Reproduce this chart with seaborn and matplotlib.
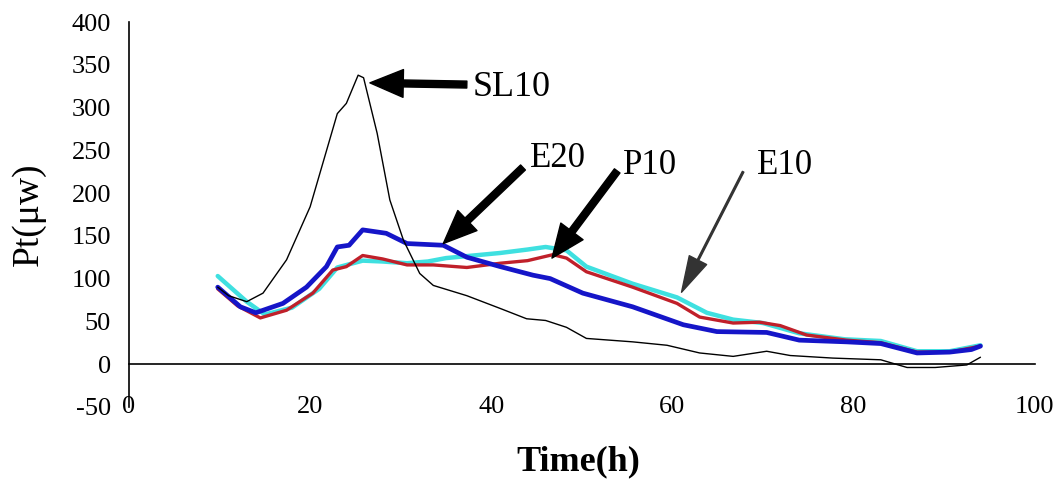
import matplotlib
matplotlib.use("Agg")
import matplotlib.pyplot as plt
import seaborn as sns
import pandas as pd

# ---- data ----
sl10_x = [9.8, 11, 13, 14.8, 17.4, 20, 23, 24, 25.3, 25.9, 27.4, 28.8, 30.3, 32.1, 33.6, 37.3,
          41, 43.9, 46, 48.3, 50.5, 55.6, 59.4, 63, 66.7, 70.4, 73, 77.7, 83, 85.9, 89, 92.5, 94]
sl10_y = [90, 80, 73, 83, 122, 184, 293, 305, 338, 335, 270, 192, 145, 106, 92, 80,
          65, 53, 51, 43, 30, 26, 22, 13, 9, 15, 10, 7, 5, -4, -4, -1, 8]

e20_x = [9.8, 12.3, 14, 17, 19.6, 21.8, 23, 24.3, 25.8, 28.4, 30.7, 34.7, 37.3, 41, 44.6, 46.5,
         50.1, 55.6, 61.2, 64.9, 70.4, 74, 79.2, 83, 87, 90.6, 93, 94]
e20_y = [90, 67, 60, 71, 90, 114, 137, 139, 157, 153, 141, 139, 125, 114, 104, 100,
         83, 67, 46, 38, 37, 28, 26, 24, 13, 14, 17, 21]

p10_x = [9.8, 12, 14.5, 17.4, 20.3, 22.5, 24, 25.8, 28, 30.7, 33.6, 37.3, 41, 44, 46.8, 48.3,
         50.5, 55.6, 60.5, 63, 66.7, 69.6, 71.9, 74.8, 79.2, 83, 87, 90.6, 94]
p10_y = [88, 68, 54, 63, 83, 110, 114, 127, 123, 116, 116, 113, 118, 121, 128, 124,
         108, 90, 71, 55, 48, 49, 45, 34, 28, 25, 14, 14, 21]

e10_x = [9.8, 13, 15, 18, 21, 23, 25.8, 28, 30.7, 33, 35, 38, 41, 44, 46, 48.3,
         50.5, 55.6, 60.5, 63.8, 66.7, 70, 74, 79, 83, 87, 90.6, 94]
e10_y = [103, 73, 58, 66, 88, 113, 121, 120, 118, 120, 124, 127, 130, 134, 137, 133,
         114, 94, 78, 60, 52, 48, 36, 29, 27, 15, 15, 22]

x_ticks = [0, 20, 40, 60, 80, 100]
y_ticks = [-50, 0, 50, 100, 150, 200, 250, 300, 350, 400]

sns.set_style("white")
plt.rcParams["font.family"] = ["Liberation Serif", "DejaVu Serif"]
plt.rcParams["axes.unicode_minus"] = False
plt.rcParams["text.color"] = "black"
plt.rcParams["xtick.color"] = "black"
plt.rcParams["ytick.color"] = "black"

fig = plt.figure(figsize=(10.57, 4.82), dpi=100)
ax = fig.add_axes([0.122, 0.156, 0.857, 0.798])

series = [
    ("E10", e10_x, e10_y, "#3FE0E0", 3.2),
    ("P10", p10_x, p10_y, "#C0202A", 2.4),
    ("E20", e20_x, e20_y, "#1515C8", 3.4),
    ("SL10", sl10_x, sl10_y, "black", 1.0),
]
for name, xs, ys, col, lw in series:
    df = pd.DataFrame({"t": xs, "p": ys})
    sns.lineplot(data=df, x="t", y="p", ax=ax, color=col, lw=lw, sort=False,
                 estimator=None)

ax.set_xlim(0, 100)
ax.set_ylim(-50, 400)
ax.set_xticks(x_ticks)
ax.set_yticks(y_ticks)
ax.spines["top"].set_visible(False)
ax.spines["right"].set_visible(False)
ax.spines["bottom"].set_position(("data", 0))
for s in ["left", "bottom"]:
    ax.spines[s].set_color("black")
    ax.spines[s].set_linewidth(1.2)
ax.tick_params(axis="x", direction="in", length=6, width=1.2, pad=23, labelsize=19,
               colors="black")
ax.tick_params(axis="y", direction="in", length=6, width=1.2, pad=13, labelsize=19,
               colors="black")
ax.set_xlabel("")
ax.set_ylabel("")
fig.text(0.547, 0.042, "Time(h)", ha="center", va="center", fontsize=26,
         fontweight="bold", color="black")
fig.text(0.027, 0.556, "Pt(\u03bcw)", ha="center", va="center", fontsize=27,
         rotation=90, color="black")

# annotations
thick = dict(facecolor="black", edgecolor="black", width=5, headwidth=20, headlength=24, shrink=0)
thin = dict(facecolor="#333333", edgecolor="#333333", width=1.2, headwidth=14, headlength=26, shrink=0)
ax.annotate("", xy=(26.6, 329), xytext=(37.3, 327), arrowprops=thick)
ax.text(37.9, 324, "SL10", fontsize=26, va="center", ha="left", color="black")
ax.annotate("", xy=(34.7, 141), xytext=(43.5, 230), arrowprops=thick)
ax.text(44.3, 241, "E20", fontsize=25, va="center", ha="left", color="black")
ax.annotate("", xy=(46.7, 124), xytext=(53.9, 226), arrowprops=thick)
ax.text(54.5, 232, "P10", fontsize=25, va="center", ha="left", color="black")
ax.annotate("", xy=(61.0, 84), xytext=(67.8, 225), arrowprops=thin)
ax.text(69.3, 232, "E10", fontsize=25, va="center", ha="left", color="black")

fig.savefig("out.png", dpi=100)
